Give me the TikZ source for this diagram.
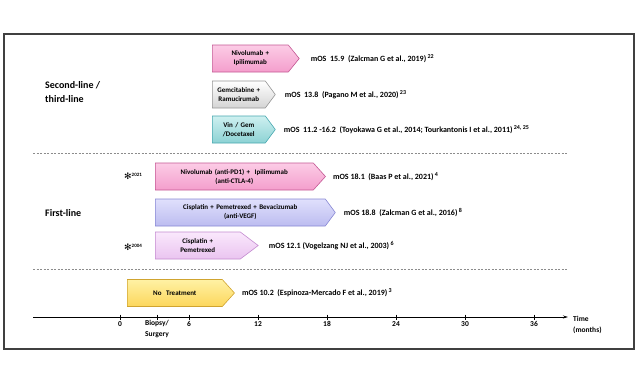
\documentclass[tikz,border=0pt]{standalone}
\usepackage{fontspec}
\setmainfont{Carlito}
\newfontfamily\symfont{DejaVu Sans}
\usetikzlibrary{positioning,shapes.symbols,arrows.meta}

\definecolor{pinktop}{RGB}{252,204,230}
\definecolor{pinkbot}{RGB}{244,158,204}
\definecolor{pinkline}{RGB}{196,88,148}
\definecolor{greytop}{RGB}{255,255,255}
\definecolor{greybot}{RGB}{212,212,212}
\definecolor{greyline}{RGB}{150,150,150}
\definecolor{tealtop}{RGB}{206,240,240}
\definecolor{tealbot}{RGB}{140,210,212}
\definecolor{tealline}{RGB}{72,168,176}
\definecolor{lavtop}{RGB}{224,224,252}
\definecolor{lavbot}{RGB}{188,188,240}
\definecolor{lavline}{RGB}{136,136,212}
\definecolor{liltop}{RGB}{250,232,252}
\definecolor{lilbot}{RGB}{234,196,240}
\definecolor{lilline}{RGB}{196,140,208}
\definecolor{yeltop}{RGB}{255,242,164}
\definecolor{yelbot}{RGB}{252,214,92}
\definecolor{yelline}{RGB}{208,164,48}
\definecolor{framegrey}{RGB}{64,64,64}
\definecolor{dashgrey}{RGB}{140,140,140}

\tikzset{
  therapy/.style={signal, signal to=east, line width=0.6pt, minimum height=27pt,
    inner xsep=2pt, inner ysep=1pt, align=center, anchor=west,
    font=\bfseries\fontsize{7}{9}\selectfont},
  pinkbox/.style={therapy, draw=pinkline, top color=pinktop, bottom color=pinkbot},
  greybox/.style={therapy, draw=greyline, top color=greytop, bottom color=greybot},
  tealbox/.style={therapy, draw=tealline, top color=tealtop, bottom color=tealbot},
  lavbox/.style={therapy, draw=lavline, top color=lavtop, bottom color=lavbot},
  lilbox/.style={therapy, draw=lilline, top color=liltop, bottom color=lilbot},
  yelbox/.style={therapy, draw=yelline, top color=yeltop, bottom color=yelbot},
  mos/.style={inner sep=0pt, font=\bfseries\fontsize{8}{9}\selectfont},
  linelabel/.style={anchor=west, align=left, inner sep=0pt, font=\bfseries\fontsize{10}{14}\selectfont},
  ticklabel/.style={anchor=north, inner sep=0pt, align=center, font=\bfseries\fontsize{7.5}{11}\selectfont},
  approval/.style={anchor=west, inner sep=0pt, font=\bfseries\fontsize{7}{8}\selectfont},
}

\begin{document}
\begin{tikzpicture}[x=1pt,y=-1pt]
\useasboundingbox (0,0) rectangle (640,384);
\draw[framegrey, line width=1.5pt] (4,34) rectangle (634,349);

% second-line / third-line
\node[linelabel] (second) at (45,92) {Second-line /\\third-line};
\node[pinkbox, text width=72pt, signal pointer angle=102] (nivtwo) at (212,58.5) {Nivolumab +\\Ipilimumab};
\node[greybox, text width=49pt, signal pointer angle=107] (gem) at (212,94.5) {Gemcitabine +\\Ramucirumab};
\node[tealbox, text width=49pt, signal pointer angle=107] (vin) at (212,129.5) {Vin / Gem\\/Docetaxel};
\node[mos, right=11pt of nivtwo] (mosnivtwo) {mOS~~15.9~~(Zalcman G et al., 2019)\,\textsuperscript{22}};
\node[mos, right=9pt of gem] (mosgem) {mOS~~13.8~~(Pagano M et al., 2020)\,\textsuperscript{23}};
\node[mos, right=8pt of vin] (mosvin) {mOS~~11.2 -16.2~~(Toyokawa G et al., 2014; Tourkantonis I et al., 2011)\,\textsuperscript{24, 25}};

\draw[dashgrey, line width=0.8pt, dash pattern=on 2pt off 1.5pt] (33,153) -- (568,153);

% first-line
\node[linelabel] (first) at (45,213) {First-line};
\node[pinkbox, text width=154pt, signal pointer angle=96] (nivone) at (155,176.5) {Nivolumab (anti-PD1) +~~Ipilimumab\\(anti-CTLA-4)};
\node[lavbox, text width=166pt, signal pointer angle=107] (bev) at (155,212.5) {Cisplatin + Pemetrexed + Bevacizumab\\(anti-VEGF)};
\node[lilbox, text width=81pt, signal pointer angle=74] (cis) at (155,245.5) {Cisplatin +\\Pemetrexed};
\node[mos, right=7pt of nivone] (mosnivone) {mOS 18.1~~(Baas P et al., 2021)\,\textsuperscript{4}};
\node[mos, right=8pt of bev] (mosbev) {mOS 18.8~~(Zalcman G et al., 2016)\,\textsuperscript{8}};
\node[mos, right=10pt of cis] (moscis) {mOS 12.1 (Vogelzang NJ et al., 2003)\,\textsuperscript{6}};
\node[approval] (fda21) at (124,176) {{\symfont\fontsize{9}{9}\selectfont ✻}\textsuperscript{2021}};
\node[approval] (fda04) at (124,247) {{\symfont\fontsize{9}{9}\selectfont ✻}\textsuperscript{2004}};

\draw[dashgrey, line width=0.8pt, dash pattern=on 2pt off 1.5pt] (33,269) -- (568,269);

% no treatment
\node[yelbox, text width=91pt, signal pointer angle=96] (none) at (127,293) {No~~Treatment};
\node[mos, right=7pt of none] (mosnone) {mOS 10.2~~(Espinoza-Mercado F et al., 2019)\,\textsuperscript{3}};

% time axis
\coordinate (axstart) at (33,317);
\coordinate (axend) at (568,317);
\draw[line width=0.8pt, -{Stealth[length=5pt,width=3pt]}] (axstart) -- (axend);
\foreach \m in {0,6,...,36} {
  \draw[line width=0.8pt] (120+\m*11.5,314.5) -- (120+\m*11.5,319.5);
  \node[ticklabel] (tick\m) at (120+\m*11.5,321) {\m};
}
\draw[line width=0.8pt] (157,314.5) -- (157,319.5);
\node[ticklabel] (biopsy) at (157,320) {Biopsy/\\Surgery};
\node[anchor=north west, inner sep=0pt, align=left, font=\bfseries\fontsize{7.5}{11}\selectfont] (time) at (573,316) {Time\\(months)};
\end{tikzpicture}
\end{document}
